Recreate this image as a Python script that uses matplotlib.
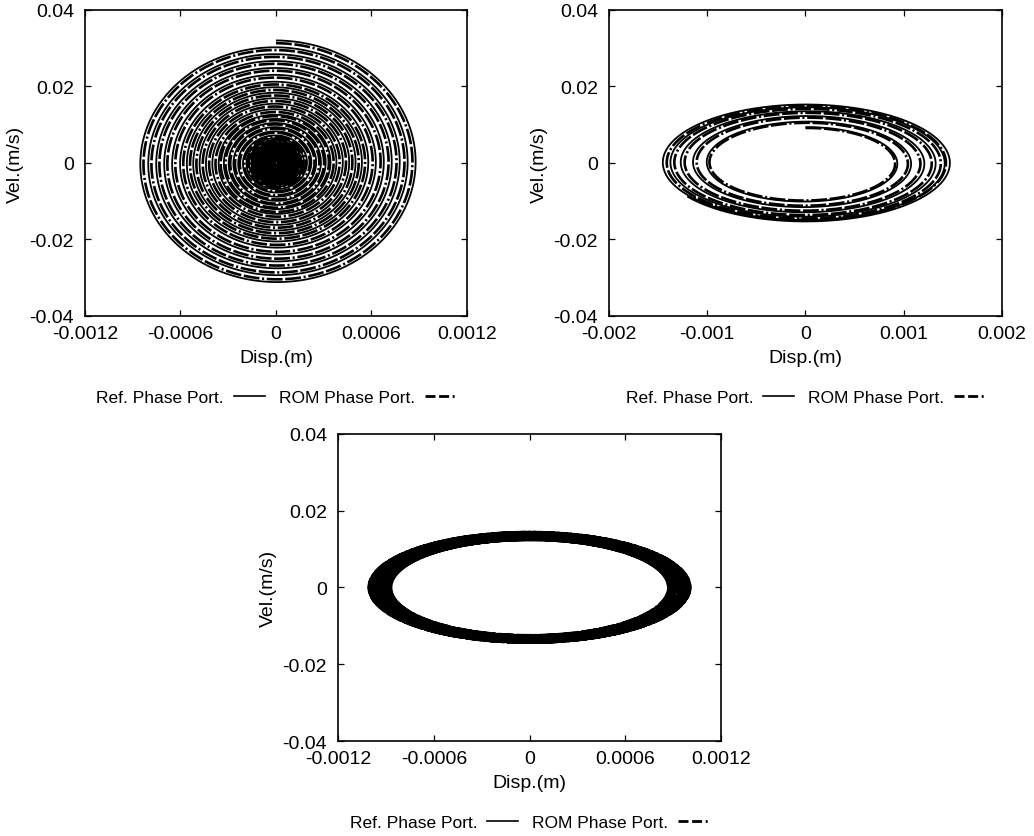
import numpy as np
import matplotlib
matplotlib.use("Agg")
import matplotlib.pyplot as plt
from matplotlib.lines import Line2D

plt.rcParams['font.family'] = ['Liberation Sans', 'DejaVu Sans']

# ---------------- data ----------------
# Panel (a): decaying spiral. Peak displacement per cycle (m), reference and ROM
a_ref_peaks = [0.00089, 0.00084, 0.00079, 0.00074, 0.00069, 0.00064, 0.00059, 0.00055,
               0.00051, 0.00047, 0.00043, 0.00039, 0.00035, 0.00032, 0.00029, 0.00026,
               0.00023, 0.00020, 0.000180, 0.000165, 0.000150, 0.000142, 0.000134,
               0.000126, 0.000118, 0.000110, 0.000102, 0.000094, 0.000086, 0.000078,
               0.000070, 0.000062, 0.000054, 0.000046, 0.000038, 0.000030, 0.000022,
               0.000014, 0.000006]
a_rom_peaks = [0.00087, 0.00082, 0.00077, 0.00072, 0.00067, 0.00062, 0.00057, 0.00053,
               0.00049, 0.00045, 0.00041, 0.00037, 0.00034, 0.00031, 0.00028, 0.00025,
               0.00022, 0.000192, 0.000173, 0.000158, 0.000146, 0.000138, 0.000130,
               0.000122, 0.000114, 0.000106, 0.000098, 0.000090, 0.000082, 0.000074,
               0.000066, 0.000058, 0.000050, 0.000042, 0.000034, 0.000026, 0.000018,
               0.000010, 0.000003]
a_omega = 36.0          # velocity / displacement amplitude ratio (1/s)

# Panel (b): growing spiral
b_ref_peaks = [0.00090, 0.00104, 0.00118, 0.00130, 0.00140, 0.00147]
b_rom_peaks = [0.00088, 0.00101, 0.00114, 0.00126, 0.00136, 0.00143]
b_omega = 10.4
b_end_phase = 4.1       # rad past the last full cycle

# Panel (c): thick limit-cycle band
c_ref_peaks = [0.00087, 0.00090, 0.00094, 0.00097, 0.00100, 0.00101, 0.00099, 0.00096,
               0.00092, 0.00089, 0.00087, 0.00088, 0.00091, 0.00095, 0.00098, 0.00100,
               0.00101, 0.00098, 0.00095, 0.00091, 0.00088, 0.00086, 0.00089, 0.00093,
               0.00096, 0.00099, 0.00101, 0.00100, 0.00097, 0.00093, 0.00090, 0.00087]
c_rom_peaks = [0.00088, 0.00091, 0.00095, 0.00098, 0.00100, 0.00100, 0.00098, 0.00095,
               0.00091, 0.00088, 0.00087, 0.00089, 0.00092, 0.00096, 0.00099, 0.00101,
               0.00100, 0.00097, 0.00094, 0.00090, 0.00087, 0.00087, 0.00090, 0.00094,
               0.00097, 0.00100, 0.00101, 0.00099, 0.00096, 0.00092, 0.00089, 0.00087]
c_omega = 14.3

x_ticks_ac = [-0.0012, -0.0006, 0, 0.0006, 0.0012]
x_ticks_b = [-0.002, -0.001, 0, 0.001, 0.002]
y_ticks = [-0.04, -0.02, 0, 0.02, 0.04]
x_ticklabels_ac = ['-0.0012', '-0.0006', '0', '0.0006', '0.0012']
x_ticklabels_b = ['-0.002', '-0.001', '0', '0.001', '0.002']
y_ticklabels = ['-0.04', '-0.02', '0', '0.02', '0.04']
legend_labels = ['Ref. Phase Port.', 'ROM Phase Port.']


def spiral(peaks, omega, extra_phase=0.0):
    peaks = np.asarray(peaks)
    n = len(peaks)
    total = 2 * np.pi * (n - 1) + extra_phase
    th = np.linspace(0, total, 4000 * max(1, n // 5))
    amp = np.interp(th / (2 * np.pi), np.arange(n), peaks)
    return amp * np.sin(th), omega * amp * np.cos(th)


fig = plt.figure(figsize=(10.34, 8.37), dpi=100)
ax_a = fig.add_axes([0.0822, 0.6213, 0.3694, 0.3656])
ax_b = fig.add_axes([0.5890, 0.6213, 0.3800, 0.3656])
ax_c = fig.add_axes([0.3269, 0.1135, 0.3704, 0.3668])

rom_dash = (6, 1.0, 6, 1.0, 0.8, 1.0)

panels = [
    (ax_a, a_ref_peaks, a_rom_peaks, a_omega, 0.0, x_ticks_ac, x_ticklabels_ac, (-0.0012, 0.0012)),
    (ax_b, b_ref_peaks, b_rom_peaks, b_omega, b_end_phase, x_ticks_b, x_ticklabels_b, (-0.002, 0.002)),
    (ax_c, c_ref_peaks, c_rom_peaks, c_omega, 0.0, x_ticks_ac, x_ticklabels_ac, (-0.0012, 0.0012)),
]

for ax, rp, mp, om, ep, xt, xtl, xl in panels:
    xr, vr = spiral(rp, om, ep)
    xm, vm = spiral(mp, om, ep)
    ax.plot(xr, vr, color='black', lw=1.3, solid_capstyle='butt')
    ax.plot(xm, vm, color='black', lw=1.9, dashes=rom_dash)
    ax.set_xlim(*xl)
    ax.set_ylim(-0.04, 0.04)
    ax.set_xticks(xt)
    ax.set_xticklabels(xtl)
    ax.set_yticks(y_ticks)
    ax.set_yticklabels(y_ticklabels)
    ax.tick_params(direction='in', top=True, right=True, length=4, width=0.9,
                   labelsize=14)
    ax.tick_params(axis='x', pad=6.5)
    ax.tick_params(axis='y', pad=8)
    for s in ax.spines.values():
        s.set_linewidth(1.2)
    ax.set_xlabel('Disp.(m)', fontsize=14, labelpad=5)
    ax.set_ylabel('Vel.(m/s)', fontsize=14, labelpad=4)
    handles = [Line2D([], [], color='black', lw=1.2),
               Line2D([], [], color='black', lw=2.0, dashes=(3.6, 1.3, 3.6, 1.3, 0.7, 2.5))]
    ax.legend(handles, legend_labels, loc='center', bbox_to_anchor=(0.5, -0.265),
              ncol=2, frameon=False, markerfirst=False, fontsize=12.5,
              handlelength=1.8, columnspacing=0.8, handletextpad=0.57)

fig.savefig('out.png', dpi=100)
